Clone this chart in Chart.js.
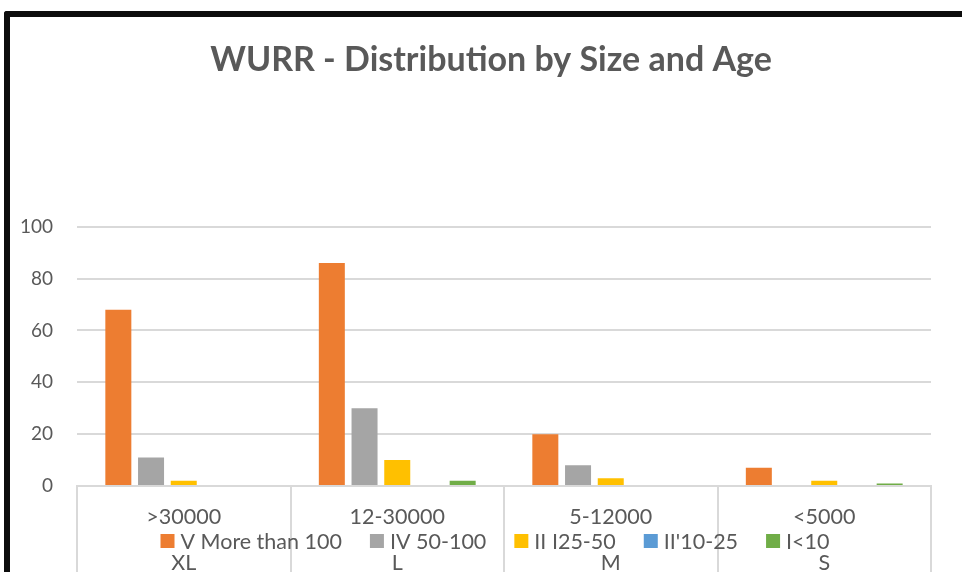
<!DOCTYPE html>
<html>
<head>
<meta charset="utf-8">
<script src="https://cdn.jsdelivr.net/npm/chart.js@4.4.1/dist/chart.umd.min.js"></script>
<style>
  html, body { margin: 0; padding: 0; background: #fff; }
  .frame {
    position: absolute; left: 4px; top: 11px;
    width: 952px; height: 555px;
    border-top: 6px solid #0d0d0d; border-left: 6px solid #0d0d0d;
    border-top-left-radius: 3px;
  }
  canvas { display: block; }
</style>
</head>
<body>
<div class="frame"><canvas id="wurr" width="952" height="555"></canvas></div>
<script>
var sizes = ['>30000', '12-30000', '5-12000', '<5000'];
var ages = ['XL', 'L', 'M', 'S'];
var seriesNames = ['V More than 100', 'IV 50-100', 'II I25-50', "II'10-25", 'I<10'];
var seriesColors = ['#ED7D31', '#A5A5A5', '#FFC000', '#5B9BD5', '#70AD47'];
var moreThan100 = [68, 86, 20, 7];
var from50to100 = [11, 30, 8, 0];
var from25to50 = [2, 10, 3, 2];
var from10to25 = [0, 0, 0, 0];
var under10 = [0, 2, 0, 1];
var yTicks = [0, 20, 40, 60, 80, 100];

var textColor = '#595959';
var fontFamily = 'Lato, "Open Sans", sans-serif';

var values = [moreThan100, from50to100, from25to50, from10to25, under10];
var datasets = seriesNames.map(function (name, i) {
    return {
        label: name,
        data: values[i],
        backgroundColor: seriesColors[i],
        categoryPercentage: 0.766,
        barPercentage: 0.795
    };
});

// legend sits between the two rows of category labels, like in the excel chart
var middleLegend = {
    id: 'middleLegend',
    afterLayout: function (chart) {
        // title is centred on the whole frame, not just the plot
        chart.titleBlock.left = 10;
        chart.titleBlock.right = chart.width;
    },
    afterDraw: function (chart) {
        var ctx = chart.ctx;
        var area = chart.chartArea;
        var box = 14, gap = 6, spacing = 28;
        ctx.save();
        ctx.font = '21.5px ' + fontFamily;
        ctx.textBaseline = 'middle';
        var widths = chart.data.datasets.map(function (ds) { return ctx.measureText(ds.label).width; });
        var total = 0;
        widths.forEach(function (w) { total += box + gap + w; });
        total += spacing * (widths.length - 1);
        var x = (area.left + area.right) / 2 - 9 - total / 2;
        var y = area.bottom + 55;
        chart.data.datasets.forEach(function (ds, i) {
            ctx.fillStyle = ds.backgroundColor;
            ctx.fillRect(x, y - box / 2, box, box);
            ctx.fillStyle = textColor;
            ctx.fillText(ds.label, x + box + gap, y + 1);
            x += box + gap + widths[i] + spacing;
        });
        ctx.restore();
    }
};

new Chart(document.getElementById('wurr').getContext('2d'), {
    type: 'bar',
    data: {
        labels: sizes.map(function (s, i) { return [s, ages[i]]; }),
        datasets: datasets
    },
    options: {
        responsive: false,
        animation: false,
        layout: { padding: { left: 0, right: 31, top: 0, bottom: 0 } },
        plugins: {
            legend: { display: false },
            tooltip: { enabled: false },
            title: {
                display: true,
                text: 'WURR - Distribution by Size and Age',
                color: textColor,
                font: { family: fontFamily, size: 34, weight: 'bold', lineHeight: 1.2 },
                padding: { top: 23, bottom: 146 }
            }
        },
        scales: {
            x: {
                grid: {
                    offset: true,
                    drawOnChartArea: false,
                    drawTicks: true,
                    tickLength: 86,
                    color: '#d9d9d9',
                    lineWidth: 2
                },
                border: { display: true, color: '#d9d9d9', width: 2 },
                ticks: {
                    color: textColor,
                    padding: -78,
                    maxRotation: 0,
                    autoSkip: false,
                    font: { family: fontFamily, size: 21.5, lineHeight: 2.14 }
                },
                afterFit: function (scale) { scale.height = 86; }
            },
            y: {
                min: 0,
                max: 100,
                afterBuildTicks: function (scale) {
                    scale.ticks = yTicks.map(function (v) { return { value: v }; });
                },
                grid: { color: '#d9d9d9', lineWidth: 2, drawTicks: false },
                border: { display: false },
                ticks: {
                    color: textColor,
                    padding: 24,
                    font: { family: fontFamily, size: 19 }
                },
                afterFit: function (scale) { scale.width = 67; }
            }
        }
    },
    plugins: [middleLegend]
});
</script>
</body>
</html>
